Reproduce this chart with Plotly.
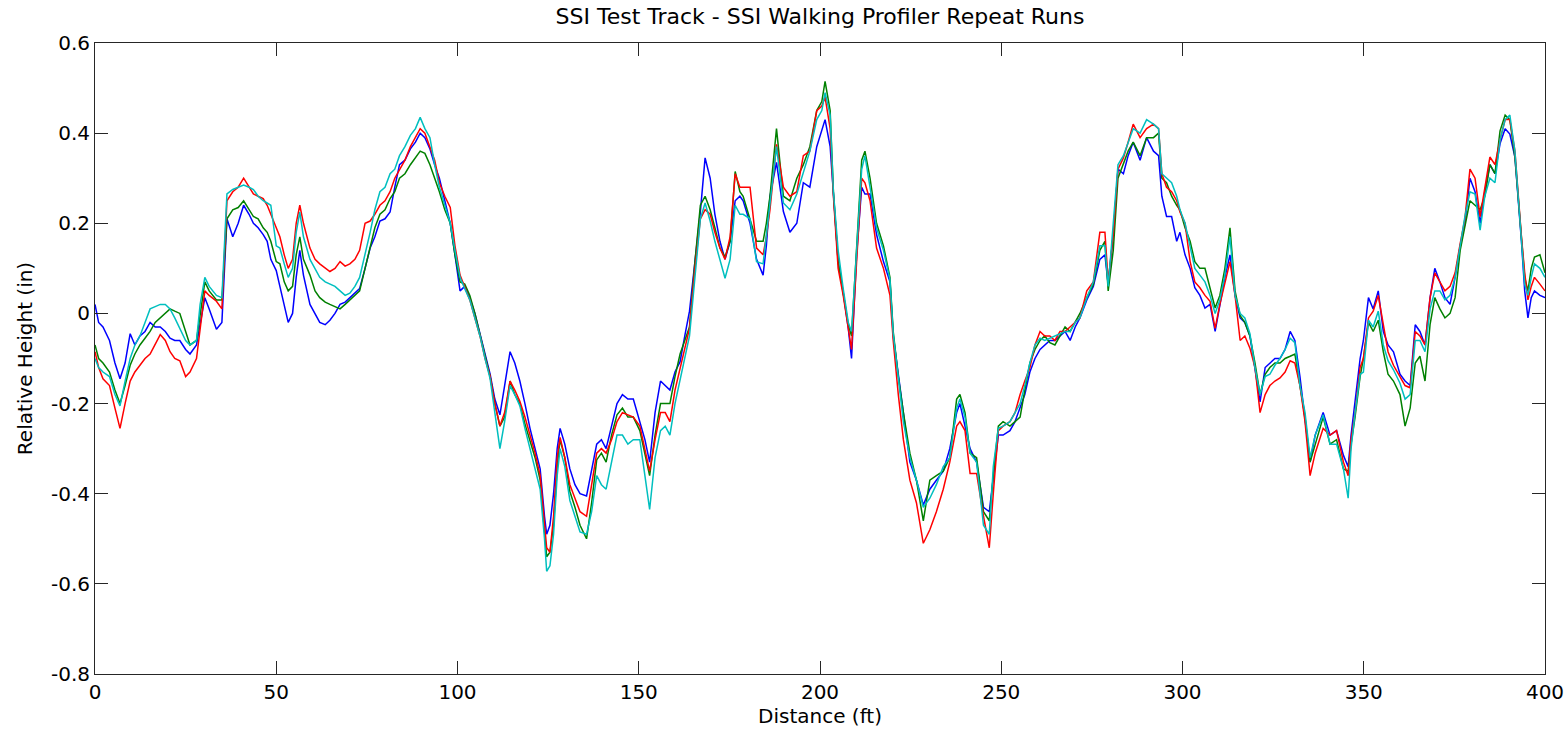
import plotly.graph_objects as go

# Distance (ft) sample positions shared by all runs
distance = [0, 1, 2.2, 4, 5.5, 6.9, 8.3, 9.7, 11, 12.4, 13.8, 15.2, 16.6, 18, 19.4, 20.7, 22, 23.4, 25, 26.2,
            28, 29, 30.3, 31.5, 33.5, 35, 36.4, 38, 39.5, 41, 42.5, 43.7, 45, 46.4, 47.5, 48.5, 50,
            51, 52.2, 53.3, 54.5, 55.5, 56.5, 57.5, 59.3, 60.7, 62, 63.5, 64.8, 66.2, 67.6, 69, 70.3,
            71.7, 73, 74.5, 75.9, 77.2, 78.6, 80, 81.4, 82.7, 84, 85.5, 87, 88.4, 89.7, 91, 92.4, 93.7,
            95, 96.5, 98, 99.3, 100.7,
            102, 103.4, 104.8, 106.2, 107.6, 109, 110.3, 111.7, 113, 114.5, 115.8, 117.2, 118.6, 120,
            121.4, 122.8, 124, 124.6, 125.5, 126.5, 127.5, 128.3, 129.6, 131, 132.4, 133.8, 135.6, 137,
            138.4, 139.7, 141, 142.5, 144, 145.5, 147, 148.5, 150.3, 151.7, 153, 154.5, 156, 157.3,
            158.6, 160, 161.4, 162.7, 164, 165.5, 167, 168.3, 169.7, 171, 172.4, 173.8, 175.2, 176.6,
            177.9, 178.8, 180.7, 182.5, 184.3, 185.2, 186.2, 188, 189.9, 191.7, 193.6, 195.4, 197.2,
            199.1, 200.5, 201.4, 202.8, 203.7, 205, 206.4, 207.8, 208.7, 210.1, 211.5, 212.4, 213.8,
            215.6, 217.5, 219.3, 220.2, 221.6, 223, 224.8, 226.6, 228.5, 230.3, 232.1, 234, 235.8,
            237.7, 238.6, 240, 241.4, 243.2, 245.1, 246.7, 247.8, 249.2, 250.5, 252.4, 253.8, 255.2,
            256.5, 257.9, 259.3, 260.7, 262, 263.4, 264.8, 266.2, 267.6, 269, 270.4, 271.7, 273.6,
            275.4, 277.2, 278.6, 279.5, 280.9, 282.2, 283.7, 285, 286.4, 288.3, 290.1, 292, 293.4,
            294.3, 295.6, 297, 298.4, 299.3, 300.7, 302.1, 303.4, 304.8, 306.2, 307.6, 309, 310.3,
            311.7, 313.1, 314.5, 315.9, 317.2, 318.6, 320, 321.4, 322.8, 324.1, 325.5, 326.9, 328.3,
            329.7, 331, 332.4, 333.8, 335.2, 336.6, 338.8, 340.7, 342.5, 344.4, 345.7, 346.5, 347.6,
            349, 349.9, 351.3, 352.6, 354, 355.4, 356.7, 358.2, 360, 361.4, 362.8, 364.2, 365.5, 366.9,
            368.3, 369.6, 371, 372.4, 373.8, 375.2, 376.6, 377.9, 379.3, 380.7, 382.1, 383.4, 384.8,
            386.2, 387.6, 389, 390.3, 391.7, 392.6, 393.5, 394.4, 395.3, 396.2, 397.1, 398.6, 400]

run_blue = [0.02, -0.02, -0.03, -0.06, -0.11, -0.145, -0.11, -0.045, -0.07, -0.05, -0.04, -0.02, -0.03, -0.03,
            -0.04, -0.055, -0.06, -0.06, -0.08, -0.09, -0.07, -0.02, 0.035, 0.01, -0.035, -0.02, 0.21, 0.17,
            0.2, 0.24, 0.22, 0.2, 0.19, 0.175, 0.16, 0.12, 0.095,
            0.06, 0.02, -0.02, 0.0, 0.08, 0.14, 0.085, 0.02, 0.0, -0.02, -0.025, -0.015, 0.0, 0.02, 0.025,
            0.035, 0.045, 0.055, 0.1, 0.145, 0.17, 0.205, 0.21, 0.225, 0.28, 0.33, 0.34, 0.365, 0.38, 0.4,
            0.39, 0.365, 0.33, 0.3, 0.25, 0.2, 0.13, 0.05,
            0.06, 0.035, 0.0, -0.047, -0.09, -0.135, -0.19, -0.225, -0.16, -0.085, -0.11, -0.15, -0.2,
            -0.255, -0.3, -0.345, -0.45, -0.49, -0.47, -0.4, -0.3, -0.255, -0.29, -0.345, -0.38, -0.4,
            -0.405, -0.35, -0.29, -0.28, -0.3, -0.25, -0.2, -0.18, -0.19, -0.19, -0.24, -0.28, -0.33,
            -0.22, -0.15, -0.16, -0.17, -0.13, -0.107, -0.05, 0.005, 0.115, 0.226, 0.345, 0.3, 0.22,
            0.16, 0.12, 0.16, 0.25, 0.26, 0.25, 0.2, 0.12, 0.085, 0.15, 0.26, 0.335, 0.226, 0.18, 0.2,
            0.29, 0.28, 0.37, 0.41, 0.43, 0.37, 0.26, 0.115, 0.047, -0.033, -0.1, 0.13, 0.28, 0.265,
            0.265, 0.175, 0.115, 0.07, -0.05, -0.14, -0.22, -0.33, -0.37, -0.425, -0.39, -0.37, -0.35,
            -0.3, -0.22, -0.2, -0.25, -0.3, -0.33, -0.43, -0.44, -0.37, -0.27, -0.27, -0.26, -0.24,
            -0.21, -0.18, -0.13, -0.1, -0.08, -0.07, -0.06, -0.06, -0.05, -0.04, -0.06, -0.03, -0.01,
            0.03, 0.06, 0.12, 0.13, 0.064, 0.175, 0.32, 0.31, 0.35, 0.38, 0.34, 0.39, 0.36, 0.35, 0.26,
            0.215, 0.215, 0.16, 0.18, 0.13, 0.1, 0.057, 0.04, 0.012, 0.02, -0.04, 0.02, 0.08, 0.13, 0.04,
            -0.01, -0.02, -0.05, -0.12, -0.196, -0.12, -0.11, -0.1, -0.1, -0.08, -0.04, -0.06, -0.14,
            -0.23, -0.33, -0.27, -0.22, -0.27, -0.26, -0.315, -0.34, -0.27, -0.2, -0.1, -0.06, 0.035,
            0.01, 0.05, -0.04, -0.07, -0.085, -0.135, -0.15, -0.16, -0.025, -0.04, -0.07, 0.035, 0.1,
            0.07, 0.035, 0.02, 0.08, 0.15, 0.2, 0.3, 0.27, 0.2, 0.27, 0.33, 0.31, 0.377, 0.41, 0.398,
            0.347, 0.258, 0.16, 0.05, -0.01, 0.035, 0.05, 0.04, 0.035]

run_red = [-0.085, -0.12, -0.145, -0.16, -0.21, -0.255, -0.2, -0.15, -0.13, -0.115, -0.1, -0.09, -0.07, -0.047,
           -0.06, -0.085, -0.1, -0.105, -0.14, -0.13, -0.1, -0.04, 0.05, 0.04, 0.027, 0.01, 0.25, 0.27, 0.28,
           0.3, 0.28, 0.265, 0.26, 0.255, 0.24, 0.22, 0.19,
           0.17, 0.13, 0.1, 0.12, 0.2, 0.24, 0.2, 0.145, 0.12, 0.11, 0.1, 0.093, 0.1, 0.115, 0.105, 0.11,
           0.12, 0.14, 0.2, 0.205, 0.22, 0.24, 0.25, 0.27, 0.3, 0.32, 0.34, 0.37, 0.39, 0.41, 0.4, 0.37,
           0.34, 0.29, 0.26, 0.235, 0.15, 0.085,
           0.06, 0.03, -0.01, -0.05, -0.1, -0.14, -0.2, -0.25, -0.22, -0.15, -0.17, -0.195, -0.23, -0.27,
           -0.31, -0.36, -0.47, -0.52, -0.53, -0.45, -0.32, -0.275, -0.32, -0.38, -0.41, -0.44, -0.45,
           -0.38, -0.31, -0.3, -0.31, -0.28, -0.24, -0.22, -0.225, -0.23, -0.25, -0.3, -0.35, -0.28,
           -0.22, -0.22, -0.24, -0.17, -0.12, -0.08, -0.033, 0.1, 0.21, 0.23, 0.22, 0.18, 0.145, 0.12,
           0.17, 0.31, 0.28, 0.28, 0.28, 0.145, 0.13, 0.17, 0.23, 0.375, 0.28, 0.26, 0.27, 0.35, 0.36,
           0.45, 0.46, 0.48, 0.41, 0.26, 0.1, 0.04, -0.033, -0.08, 0.115, 0.3, 0.29, 0.25, 0.145, 0.1,
           0.04, -0.06, -0.18, -0.28, -0.37, -0.42, -0.51, -0.48, -0.44, -0.39, -0.33, -0.25, -0.24,
           -0.26, -0.355, -0.355, -0.45, -0.52, -0.4, -0.26, -0.25, -0.24, -0.22, -0.18, -0.15, -0.12,
           -0.07, -0.04, -0.05, -0.05, -0.06, -0.04, -0.04, -0.03, -0.02, -0.01, 0.05, 0.07, 0.18, 0.18,
           0.07, 0.175, 0.32, 0.345, 0.38, 0.42, 0.39, 0.41, 0.42, 0.41, 0.31, 0.28, 0.27, 0.25, 0.225,
           0.2, 0.115, 0.07, 0.057, 0.04, 0.027, -0.033, 0.02, 0.07, 0.115, 0.04, -0.06, -0.05, -0.077,
           -0.12, -0.22, -0.18, -0.16, -0.15, -0.143, -0.13, -0.105, -0.11, -0.16, -0.24, -0.36, -0.31,
           -0.255, -0.27, -0.26, -0.33, -0.36, -0.28, -0.22, -0.12, -0.1, -0.01, 0.005, 0.04, -0.025,
           -0.085, -0.115, -0.14, -0.16, -0.165, -0.04, -0.05, -0.07, 0.035, 0.09, 0.07, 0.05, 0.06,
           0.09, 0.155, 0.21, 0.32, 0.3, 0.215, 0.28, 0.347, 0.33, 0.385, 0.43, 0.43, 0.36, 0.26, 0.17,
           0.09, 0.03, 0.06, 0.08, 0.065, 0.05]

run_green = [-0.07, -0.1, -0.11, -0.13, -0.17, -0.2, -0.16, -0.115, -0.09, -0.07, -0.055, -0.04, -0.02, -0.01,
             0.0, 0.01, 0.005, 0.0, -0.04, -0.07, -0.06, 0.0, 0.07, 0.05, 0.03, 0.03, 0.21, 0.23, 0.235,
             0.25, 0.23, 0.215, 0.21, 0.19, 0.18, 0.16, 0.115,
             0.11, 0.07, 0.05, 0.06, 0.13, 0.17, 0.12, 0.085, 0.05, 0.035, 0.025, 0.02, 0.015, 0.01, 0.02,
             0.03, 0.04, 0.05, 0.1, 0.15, 0.19, 0.22, 0.23, 0.255, 0.27, 0.3, 0.31, 0.33, 0.345, 0.36,
             0.355, 0.33, 0.3, 0.27, 0.23, 0.2, 0.13, 0.07,
             0.065, 0.04, 0.0, -0.045, -0.095, -0.14, -0.2, -0.25, -0.23, -0.15, -0.18, -0.2, -0.245,
             -0.285, -0.32, -0.37, -0.49, -0.54, -0.53, -0.47, -0.34, -0.28, -0.32, -0.395, -0.43, -0.47,
             -0.5, -0.42, -0.325, -0.31, -0.33, -0.27, -0.225, -0.21, -0.23, -0.23, -0.26, -0.31, -0.36,
             -0.27, -0.2, -0.2, -0.2, -0.14, -0.09, -0.06, -0.03, 0.115, 0.24, 0.26, 0.23, 0.19, 0.145,
             0.125, 0.16, 0.315, 0.27, 0.26, 0.21, 0.16, 0.16, 0.2, 0.26, 0.41, 0.26, 0.25, 0.3, 0.33,
             0.37, 0.45, 0.47, 0.515, 0.45, 0.27, 0.115, 0.047, -0.025, -0.05, 0.16, 0.34, 0.36, 0.3, 0.2,
             0.15, 0.08, -0.04, -0.14, -0.22, -0.31, -0.37, -0.46, -0.37, -0.36, -0.35, -0.32, -0.19,
             -0.18, -0.22, -0.31, -0.32, -0.44, -0.46, -0.36, -0.25, -0.24, -0.25, -0.24, -0.23, -0.17,
             -0.11, -0.08, -0.06, -0.05, -0.065, -0.07, -0.05, -0.03, -0.04, -0.02, 0.0, 0.035, 0.064,
             0.14, 0.16, 0.05, 0.14, 0.3, 0.33, 0.36, 0.38, 0.35, 0.39, 0.39, 0.4, 0.3, 0.29, 0.26, 0.24,
             0.23, 0.19, 0.16, 0.115, 0.1, 0.1, 0.057, 0.012, 0.04, 0.1, 0.19, 0.05, -0.005, -0.02, -0.05,
             -0.11, -0.18, -0.135, -0.12, -0.11, -0.11, -0.1, -0.095, -0.09, -0.16, -0.23, -0.33, -0.29,
             -0.23, -0.29, -0.28, -0.345, -0.35, -0.29, -0.23, -0.14, -0.1, -0.02, -0.04, -0.015, -0.085,
             -0.135, -0.15, -0.18, -0.25, -0.21, -0.11, -0.095, -0.15, -0.024, 0.035, 0.01, -0.01, 0.0,
             0.035, 0.14, 0.19, 0.25, 0.24, 0.23, 0.26, 0.33, 0.31, 0.405, 0.44, 0.43, 0.347, 0.26, 0.16,
             0.08, 0.05, 0.1, 0.125, 0.13, 0.09]

run_cyan = [-0.1, -0.12, -0.13, -0.14, -0.18, -0.205, -0.15, -0.1, -0.07, -0.05, -0.02, 0.01, 0.015, 0.02,
            0.02, 0.01, -0.01, -0.035, -0.06, -0.07, -0.06, 0.02, 0.08, 0.06, 0.04, 0.035, 0.265, 0.275,
            0.28, 0.285, 0.28, 0.275, 0.26, 0.25, 0.245, 0.24, 0.15,
            0.145, 0.11, 0.08, 0.1, 0.18, 0.225, 0.17, 0.12, 0.1, 0.08, 0.07, 0.065, 0.06, 0.05, 0.04,
            0.045, 0.06, 0.08, 0.13, 0.18, 0.23, 0.27, 0.28, 0.31, 0.32, 0.35, 0.37, 0.395, 0.41, 0.435,
            0.41, 0.39, 0.33, 0.28, 0.24, 0.2, 0.14, 0.08,
            0.055, 0.03, -0.01, -0.05, -0.1, -0.145, -0.22, -0.3, -0.24, -0.16, -0.18, -0.205, -0.255,
            -0.3, -0.34, -0.39, -0.5, -0.572, -0.56, -0.49, -0.36, -0.3, -0.34, -0.415, -0.45, -0.485,
            -0.49, -0.44, -0.36, -0.38, -0.39, -0.33, -0.27, -0.27, -0.29, -0.28, -0.28, -0.36, -0.435,
            -0.32, -0.26, -0.25, -0.27, -0.2, -0.15, -0.1, -0.05, 0.08, 0.21, 0.245, 0.205, 0.16, 0.12,
            0.078, 0.12, 0.24, 0.22, 0.22, 0.21, 0.115, 0.11, 0.17, 0.25, 0.37, 0.245, 0.23, 0.265, 0.31,
            0.36, 0.43, 0.45, 0.49, 0.44, 0.27, 0.14, 0.055, -0.02, -0.04, 0.13, 0.32, 0.35, 0.28, 0.19,
            0.14, 0.075, -0.045, -0.14, -0.24, -0.32, -0.37, -0.43, -0.41, -0.38, -0.34, -0.32, -0.21,
            -0.19, -0.23, -0.31, -0.33, -0.47, -0.49, -0.34, -0.255, -0.25, -0.24, -0.22, -0.2, -0.16,
            -0.11, -0.07, -0.055, -0.06, -0.055, -0.05, -0.045, -0.04, -0.04, -0.02, -0.01, 0.035, 0.07,
            0.15, 0.15, 0.06, 0.2, 0.33, 0.35, 0.38, 0.41, 0.4, 0.43, 0.42, 0.41, 0.31, 0.3, 0.29, 0.26,
            0.23, 0.2, 0.145, 0.1, 0.085, 0.07, 0.04, 0.0, 0.03, 0.085, 0.17, 0.04, 0.0, -0.01, -0.045,
            -0.12, -0.18, -0.14, -0.135, -0.115, -0.1, -0.08, -0.055, -0.065, -0.16, -0.22, -0.32, -0.27,
            -0.225, -0.29, -0.29, -0.345, -0.41, -0.3, -0.22, -0.135, -0.13, -0.015, -0.03, 0.005, -0.07,
            -0.105, -0.125, -0.155, -0.19, -0.18, -0.06, -0.06, -0.085, 0.01, 0.05, 0.05, 0.03, 0.04,
            0.08, 0.15, 0.215, 0.27, 0.265, 0.185, 0.26, 0.3, 0.29, 0.385, 0.43, 0.44, 0.36, 0.26, 0.16,
            0.065, 0.04, 0.08, 0.11, 0.1, 0.08]

x_tick_vals = [0, 50, 100, 150, 200, 250, 300, 350, 400]
x_tick_text = ["0", "50", "100", "150", "200", "250", "300", "350", "400"]
y_tick_vals = [-0.8, -0.6, -0.4, -0.2, 0, 0.2, 0.4, 0.6]
y_tick_text = ["-0.8", "-0.6", "-0.4", "-0.2", "0", "0.2", "0.4", "0.6"]

series = [
    ("Run 1", run_blue, "#0000FF"),
    ("Run 2", run_green, "#008000"),
    ("Run 3", run_red, "#FF0000"),
    ("Run 4", run_cyan, "#00BFBF"),
]

fig = go.Figure()
for name, vals, color in series:
    fig.add_trace(go.Scatter(x=distance, y=vals, mode="lines", name=name,
                             line=dict(color=color, width=1.5)))

font_family = "DejaVu Sans, Verdana, sans-serif"
axis_common = dict(showgrid=False, zeroline=False, showline=True, linecolor="#262626", linewidth=1,
                   mirror="allticks", ticks="inside", ticklen=13, tickcolor="#262626", tickwidth=1,
                   tickfont=dict(family=font_family, size=20, color="#000000"), automargin=False)

fig.update_layout(
    width=1568, height=740,
    margin=dict(l=95, r=23, t=43, b=66),
    paper_bgcolor="white", plot_bgcolor="white",
    showlegend=False,
    font=dict(family=font_family, color="#000000"),
    title=dict(text="SSI Test Track - SSI Walking Profiler Repeat Runs",
               x=0.5, xref="paper", y=1 - 16 / 740, yref="container", yanchor="middle",
               font=dict(family=font_family, size=22, color="#000000")),
    xaxis=dict(range=[0, 400], tickvals=x_tick_vals, ticktext=x_tick_text,
               title=dict(text="Distance (ft)", font=dict(family=font_family, size=20), standoff=2),
               **axis_common),
    yaxis=dict(range=[-0.8, 0.6], tickvals=y_tick_vals, ticktext=y_tick_text,
               title=dict(text="Relative Height (in)", font=dict(family=font_family, size=20), standoff=12),
               **axis_common),
)

fig.write_html("out.html")
